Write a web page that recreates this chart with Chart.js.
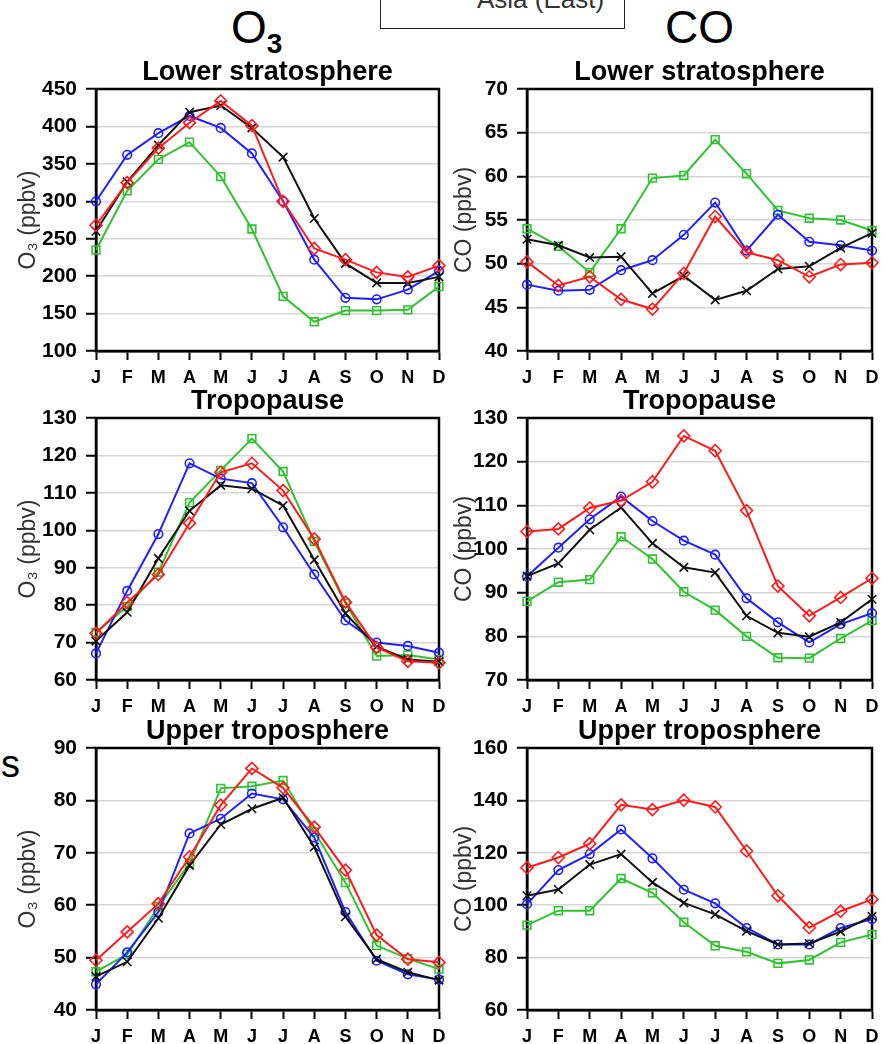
<!DOCTYPE html>
<html>
<head>
<meta charset="utf-8">
<script src="https://cdn.jsdelivr.net/npm/chart.js@4.4.1/dist/chart.umd.min.js"></script>
<style>
  html, body { margin: 0; padding: 0; background: #fff; }
  body { width: 884px; height: 1044px; overflow: hidden; position: relative;
         font-family: "Liberation Sans", Arial, Helvetica, sans-serif; }
  .panel { position: absolute; }
  .txt { position: absolute; white-space: nowrap; color: #000; }
  .big { font-size: 46px; line-height: 46px; }
  .big sub { font-size: 28px; font-weight: bold; vertical-align: baseline; position: relative; top: 10px; }
  .keybox { position: absolute; left: 380px; top: -20px; width: 243px; height: 47px;
            border: 1.5px solid #222; background: #fff; }
  .keytext { position: absolute; left: 96px; top: 5px; font-size: 26px; line-height: 26px; color: #333; }
</style>
</head>
<body>

<div class="keybox"><div class="keytext txt">Asia (East)</div></div>
<div class="txt big" style="left:231px; top:4px;">O<sub>3</sub></div>
<div class="txt big" style="left:665px; top:4px;">CO</div>
<div class="txt" style="left:1px; top:745px; font-size:38px; line-height:38px;">s</div>

<script>
// Month initials along every x axis
const months = ['J', 'F', 'M', 'A', 'M', 'J', 'J', 'A', 'S', 'O', 'N', 'D'];

// Panel titles and axis titles
const layerTitles = ['Lower stratosphere', 'Tropopause', 'Upper troposphere'];
const yTitles = ['O\u2083 (ppbv)', 'CO (ppbv)'];

// y ranges: [min, max, step]
const o3LowerStratRange = [100, 450, 50];
const coLowerStratRange = [40, 70, 5];
const o3TropopauseRange = [60, 130, 10];
const coTropopauseRange = [70, 130, 10];
const o3UpperTropRange = [40, 90, 10];
const coUpperTropRange = [60, 160, 20];

// O3, lower stratosphere
const o3LsRed   = [268, 325, 371, 405, 434, 401, 300, 237, 222, 205, 199, 214];
const o3LsBlack = [260, 326, 375, 419, 428, 398, 359, 277, 217, 191, 191, 199];
const o3LsBlue  = [300, 362, 391, 414, 398, 364, 300, 222, 171, 169, 182, 207];
const o3LsGreen = [235, 314, 356, 379, 333, 263, 173, 139, 154, 154, 155, 186];

// CO, lower stratosphere
const coLsRed   = [50.2, 47.5, 48.5, 45.9, 44.8, 48.9, 55.4, 51.3, 50.4, 48.5, 49.9, 50.1];
const coLsBlack = [52.8, 52.1, 50.7, 50.8, 46.6, 48.6, 45.85, 46.9, 49.4, 49.7, 51.8, 53.5];
const coLsBlue  = [47.6, 46.9, 47.0, 49.25, 50.4, 53.3, 57.0, 51.5, 55.6, 52.5, 52.1, 51.5];
const coLsGreen = [54.0, 52.0, 49.0, 54.0, 59.8, 60.1, 64.2, 60.3, 56.1, 55.2, 55.0, 53.8];

// O3, tropopause
const o3TpRed   = [72.5, 80.7, 88.2, 101.9, 115.5, 117.9, 110.6, 97.7, 80.8, 68.7, 65.0, 64.6];
const o3TpBlack = [70.4, 78.1, 92.5, 105.2, 112.0, 111.1, 106.6, 92.1, 77.8, 68.9, 65.5, 64.9];
const o3TpBlue  = [67.1, 83.8, 99.0, 117.9, 113.8, 112.6, 100.8, 88.2, 75.9, 70.0, 69.1, 67.3];
const o3TpGreen = [72.7, 79.6, 88.8, 107.4, 116.0, 124.5, 115.7, 97.0, 80.5, 66.4, 66.7, 65.5];

// CO, tropopause
const coTpRed   = [104.0, 104.6, 109.4, 111.1, 115.4, 125.9, 122.5, 108.8, 91.5, 84.7, 88.9, 93.3];
const coTpBlack = [93.8, 96.7, 104.4, 109.5, 101.3, 95.8, 94.6, 84.7, 80.8, 79.9, 83.2, 88.5];
const coTpBlue  = [93.7, 100.3, 106.8, 112.0, 106.4, 101.9, 98.7, 88.7, 83.2, 78.6, 82.8, 85.3];
const coTpGreen = [88.0, 92.4, 93.0, 102.8, 97.7, 90.2, 86.0, 80.0, 75.1, 75.0, 79.5, 83.6];

// O3, upper troposphere
const o3UtRed   = [49.5, 54.9, 60.3, 69.2, 79.1, 86.1, 82.4, 74.9, 66.7, 54.3, 49.7, 49.1];
const o3UtBlack = [46.4, 49.2, 57.5, 67.6, 75.4, 78.4, 80.5, 71.1, 57.8, 49.7, 47.2, 45.7];
const o3UtBlue  = [44.9, 51.0, 58.7, 73.7, 76.5, 81.3, 80.2, 72.9, 58.7, 49.4, 46.8, 45.8];
const o3UtGreen = [47.3, 50.6, 59.7, 68.0, 82.3, 82.7, 83.8, 74.0, 64.3, 52.3, 49.8, 47.8];

// CO, upper troposphere
const coUtRed   = [114.3, 118.2, 123.5, 138.3, 136.5, 140.1, 137.5, 120.7, 103.6, 91.4, 97.7, 102.2];
const coUtBlack = [103.6, 106.0, 115.5, 119.5, 108.7, 100.9, 96.5, 90.1, 85.0, 85.4, 89.9, 95.8];
const coUtBlue  = [100.4, 113.4, 119.5, 128.9, 117.9, 105.9, 100.7, 91.3, 85.0, 85.0, 91.3, 94.7];
const coUtGreen = [92.4, 97.9, 97.9, 110.2, 104.7, 93.5, 84.5, 82.2, 77.8, 79.1, 85.8, 88.8];

const FONT = "'Liberation Sans', Arial, Helvetica, sans-serif";
Chart.defaults.font.family = FONT;

// line and marker styles (red on top, green at the bottom)
const styles = [
  { color: '#ff1a1a', pointStyle: 'rectRot', radius: 6 },
  { color: '#111111', pointStyle: 'crossRot', radius: 6 },
  { color: '#1f1fff', pointStyle: 'circle', radius: 4.3 },
  { color: '#2ec42e', pointStyle: 'rect', radius: 5.5 }
];

// black box round the plotting area
const frame = {
  id: 'frame',
  beforeDatasetsDraw(chart) {
    const { ctx, chartArea: a } = chart;
    ctx.save();
    ctx.strokeStyle = '#000';
    ctx.lineWidth = 2.5;
    ctx.strokeRect(a.left, a.top, a.right - a.left, a.bottom - a.top);
    ctx.restore();
  }
};

const Y_AXIS_W = 96, TITLE_H = 39, X_AXIS_H = 35, PLOT_H = 262, PAD_R = 10;

function makePanel(p) {
  const wrap = document.createElement('div');
  wrap.className = 'panel';
  const w = Y_AXIS_W + p.plotW + PAD_R;
  const h = TITLE_H + PLOT_H + X_AXIS_H;
  wrap.style.left = (p.plotLeft - Y_AXIS_W) + 'px';
  wrap.style.top = (p.plotTop - TITLE_H) + 'px';
  wrap.style.width = w + 'px';
  wrap.style.height = h + 'px';
  const canvas = document.createElement('canvas');
  wrap.appendChild(canvas);
  document.body.appendChild(wrap);

  const datasets = p.series.map((vals, i) => ({
    data: vals,
    borderColor: styles[i].color,
    backgroundColor: 'rgba(0,0,0,0)',
    borderWidth: 2,
    pointStyle: styles[i].pointStyle,
    pointRadius: styles[i].radius,
    pointBorderWidth: 1.6,
    pointBorderColor: styles[i].color,
    pointBackgroundColor: 'rgba(0,0,0,0)',
    tension: 0,
    clip: false
  }));

  new Chart(canvas, {
    type: 'line',
    data: { labels: months, datasets },
    options: {
      responsive: true,
      maintainAspectRatio: false,
      animation: false,
      devicePixelRatio: 1,
      events: [],
      layout: { padding: { left: 0, right: PAD_R, top: 0, bottom: 0 } },
      plugins: {
        legend: { display: false },
        tooltip: { enabled: false },
        title: {
          display: true, text: p.title, fullSize: false, color: '#000',
          font: { size: 27, weight: 'bold', family: FONT, lineHeight: 1.2 },
          padding: { top: 6, bottom: 0.6 }
        }
      },
      scales: {
        x: {
          offset: false,
          grid: { drawOnChartArea: false, drawTicks: true, tickLength: 9, tickColor: '#000', tickWidth: 2 },
          border: { color: '#000', width: 2.5 },
          ticks: { font: { size: 18, weight: 'bold' }, color: '#000', padding: 7, autoSkip: false, maxRotation: 0 },
          afterFit(s) { s.height = X_AXIS_H; s.paddingLeft = 0; s.paddingRight = 0; }
        },
        y: {
          min: p.range[0], max: p.range[1],
          ticks: { stepSize: p.range[2], font: { size: 21, weight: 'bold' }, color: '#000', padding: 9 },
          grid: { color: '#d6d6d6', lineWidth: 1.5, tickLength: 10, tickColor: '#000', tickWidth: 2 },
          border: { color: '#000', width: 2.5 },
          title: { display: true, text: p.yTitle, color: '#333', font: { size: 23, weight: 'normal' },
                   padding: { top: p.yTitlePad, bottom: 0 } },
          afterFit(s) { s.width = Y_AXIS_W; s.paddingTop = 0; s.paddingBottom = 0; }
        }
      }
    },
    plugins: [frame]
  });
}

// plot-area placement: columns (O3, CO) and rows (layers)
const colLeft = [96, 527];
const colWidth = [343, 345];
const colTitlePad = [15, 20];
const rowTop = [89, 418, 748];

const panels = [
  { row: 0, col: 0, range: o3LowerStratRange, series: [o3LsRed, o3LsBlack, o3LsBlue, o3LsGreen] },
  { row: 0, col: 1, range: coLowerStratRange, series: [coLsRed, coLsBlack, coLsBlue, coLsGreen] },
  { row: 1, col: 0, range: o3TropopauseRange, series: [o3TpRed, o3TpBlack, o3TpBlue, o3TpGreen] },
  { row: 1, col: 1, range: coTropopauseRange, series: [coTpRed, coTpBlack, coTpBlue, coTpGreen] },
  { row: 2, col: 0, range: o3UpperTropRange, series: [o3UtRed, o3UtBlack, o3UtBlue, o3UtGreen] },
  { row: 2, col: 1, range: coUpperTropRange, series: [coUtRed, coUtBlack, coUtBlue, coUtGreen] }
];

panels.forEach(p => makePanel({
  plotLeft: colLeft[p.col], plotW: colWidth[p.col], plotTop: rowTop[p.row],
  title: layerTitles[p.row], yTitle: yTitles[p.col], yTitlePad: colTitlePad[p.col],
  range: p.range, series: p.series
}));
</script>
</body>
</html>
